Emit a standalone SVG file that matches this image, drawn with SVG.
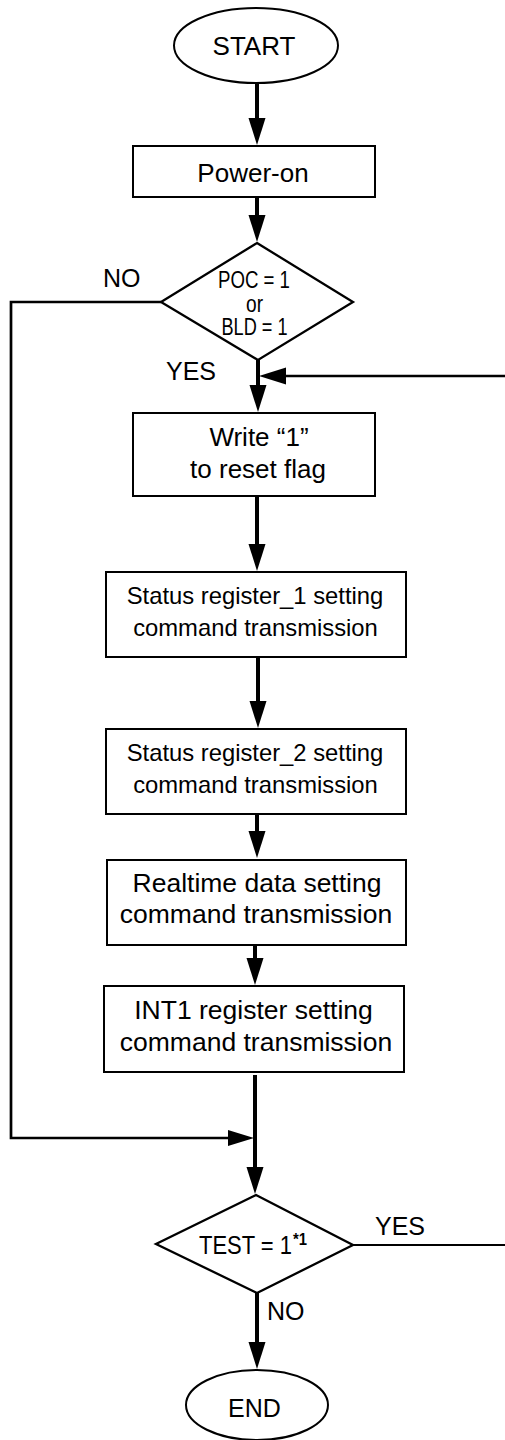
<svg xmlns="http://www.w3.org/2000/svg" width="505" height="1440" viewBox="0 0 505 1440">
<style>
.shape{fill:#fff;stroke:#000;stroke-width:2}
.dia{fill:#fff;stroke:#000;stroke-width:2.3}
.t{font-family:"Liberation Sans",Arial,sans-serif;fill:#000;text-anchor:middle}
.lbl{font-family:"Liberation Sans",Arial,sans-serif;fill:#000;font-size:25px}
.main{fill:none;stroke:#000;stroke-width:4}
.side{fill:none;stroke:#000;stroke-width:2.7}
.thin{fill:none;stroke:#000;stroke-width:2}
</style>
<defs>
<marker id="ah" markerUnits="userSpaceOnUse" markerWidth="28" markerHeight="18" refX="1" refY="8.5" orient="auto">
<path d="M0,0 L27,8.5 L0,17 Z" fill="#000"/>
</marker>
<marker id="ah2" markerUnits="userSpaceOnUse" markerWidth="28" markerHeight="18" refX="1" refY="8" orient="auto">
<path d="M0,0 L26,8 L0,16 Z" fill="#000"/>
</marker>
</defs>
<g id="connectors">
<path class="main" d="M257,83 V119" marker-end="url(#ah)"/>
<path class="main" d="M257,197 V216" marker-end="url(#ah)"/>
<path class="main" d="M258,360 V386" marker-end="url(#ah)"/>
<path class="side" d="M505,376 H285" marker-end="url(#ah)"/>
<path class="side" d="M161,302 H11 V1138 H229" marker-end="url(#ah2)"/>
<path class="main" d="M257,496 V545" marker-end="url(#ah)"/>
<path class="main" d="M258,657 V702" marker-end="url(#ah)"/>
<path class="main" d="M257,814 V832" marker-end="url(#ah)"/>
<path class="main" d="M255,945 V959" marker-end="url(#ah)"/>
<path class="main" d="M255,1075 V1168" marker-end="url(#ah)"/>
<path class="thin" d="M353,1245 H505"/>
<path class="main" d="M257,1293 V1343" marker-end="url(#ah)"/>
</g>
<g id="start">
<ellipse class="shape" cx="256" cy="45.5" rx="82" ry="37.5"/>
<text class="t" x="254" y="55" font-size="26">START</text>
</g>
<g id="power-on">
<rect class="shape" x="133" y="146" width="242" height="51"/>
<text class="t" x="253" y="182" font-size="26">Power-on</text>
</g>
<g id="decision-poc">
<polygon class="dia" points="257,243 353,302 258,360 161,302"/>
<text class="t" font-size="23"><tspan x="254" y="288" textLength="72" lengthAdjust="spacingAndGlyphs">POC = 1</tspan><tspan x="254.5" y="312" textLength="17" lengthAdjust="spacingAndGlyphs">or</tspan><tspan x="254.5" y="335" textLength="66" lengthAdjust="spacingAndGlyphs">BLD = 1</tspan></text>
</g>
<g id="labels-d1">
<text class="lbl" x="103" y="287">NO</text>
<text class="lbl" x="166" y="380">YES</text>
</g>
<g id="write-reset">
<rect class="shape" x="133" y="413" width="242" height="83"/>
<text class="t" x="259" y="446" font-size="26">Write “1”</text>
<text class="t" x="258" y="478" font-size="26">to reset flag</text>
</g>
<g id="status1">
<rect class="shape" x="106" y="572" width="300" height="85"/>
<text class="t" x="255" y="604" font-size="23.8">Status register_1 setting</text>
<text class="t" x="255.5" y="636" font-size="23.8">command transmission</text>
</g>
<g id="status2">
<rect class="shape" x="106" y="729" width="300" height="85"/>
<text class="t" x="255" y="761" font-size="23.8">Status register_2 setting</text>
<text class="t" x="255.5" y="793" font-size="23.8">command transmission</text>
</g>
<g id="realtime">
<rect class="shape" x="107" y="860" width="299" height="85"/>
<text class="t" x="257" y="892" font-size="26.5">Realtime data setting</text>
<text class="t" x="256" y="923" font-size="26.5">command transmission</text>
</g>
<g id="int1">
<rect class="shape" x="104" y="986" width="300" height="86"/>
<text class="t" x="253.5" y="1019" font-size="26.5">INT1 register setting</text>
<text class="t" x="256" y="1051" font-size="26.5">command transmission</text>
</g>
<g id="decision-test">
<polygon class="dia" points="256,1195 353,1245 257,1293 156,1244"/>
<text font-family="Liberation Sans, Arial, sans-serif" font-size="25" fill="#000"><tspan x="199" y="1254" textLength="93" lengthAdjust="spacingAndGlyphs">TEST = 1</tspan><tspan x="293" y="1245" font-size="17" font-weight="bold" textLength="14" lengthAdjust="spacingAndGlyphs">*1</tspan></text>
</g>
<g id="labels-d2">
<text class="lbl" x="375" y="1235">YES</text>
<text class="lbl" x="267" y="1320">NO</text>
</g>
<g id="end">
<ellipse class="shape" cx="257" cy="1405" rx="71" ry="35"/>
<text class="t" x="254.5" y="1417" font-size="25">END</text>
</g>
</svg>
